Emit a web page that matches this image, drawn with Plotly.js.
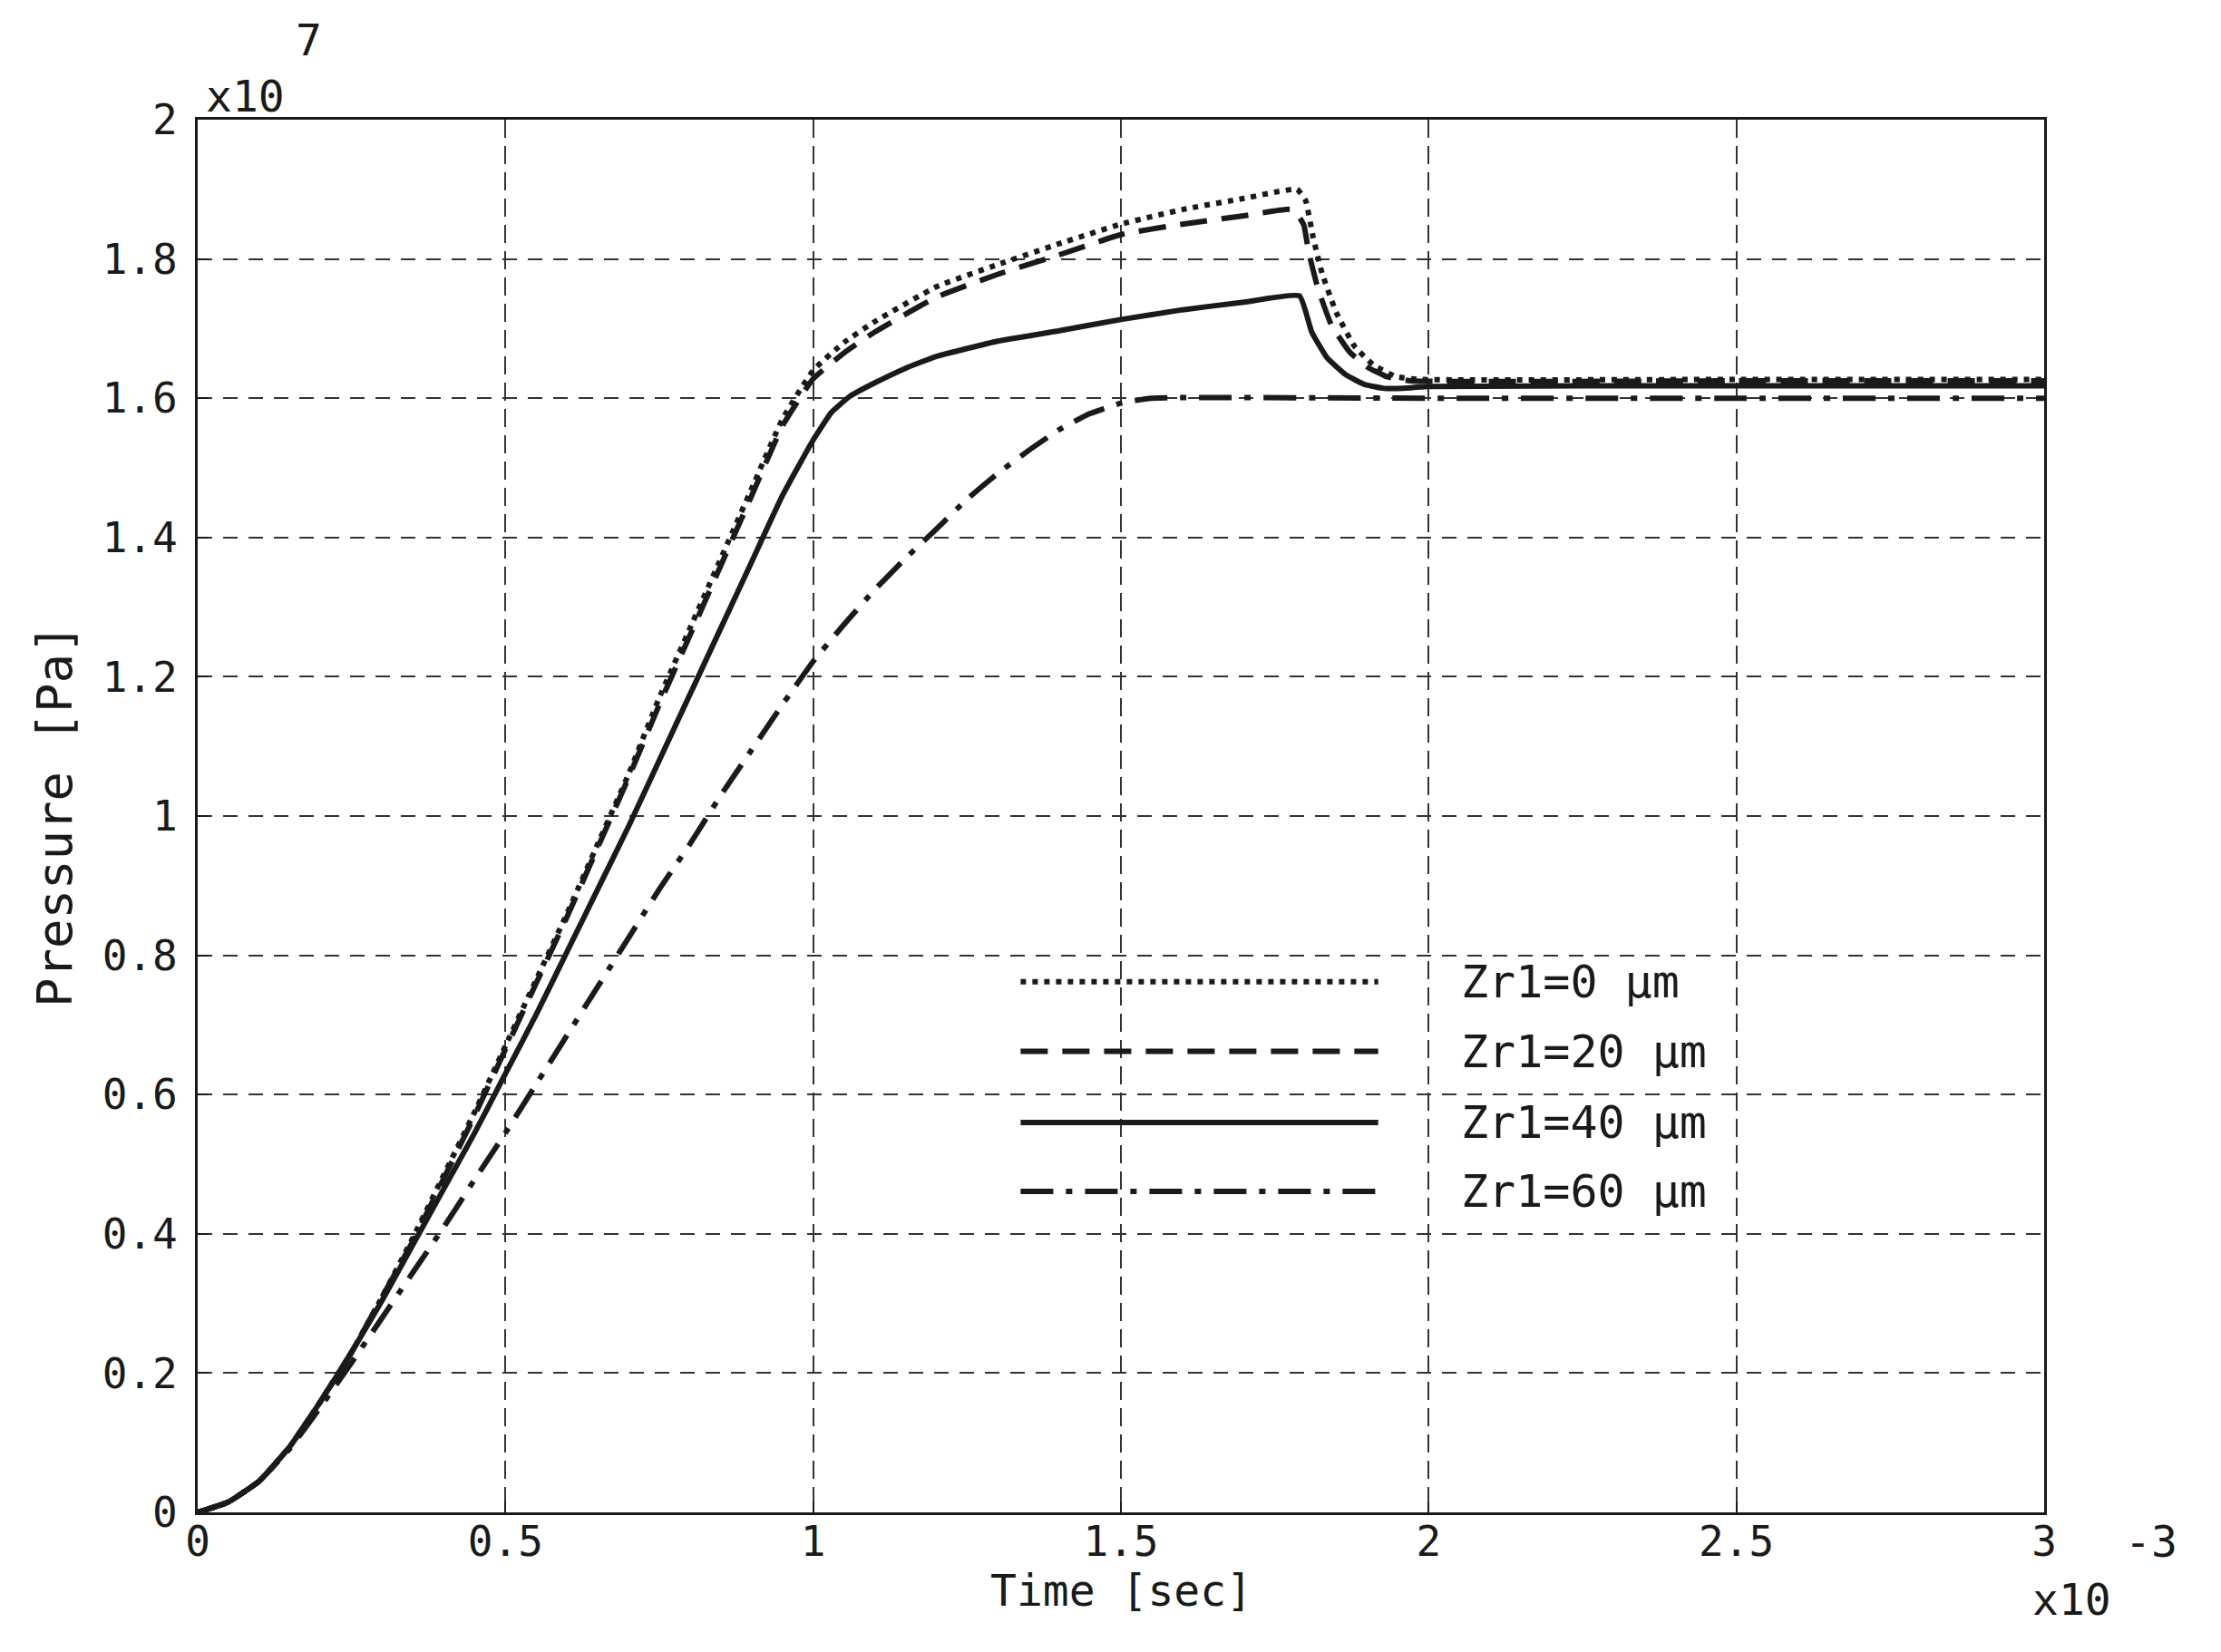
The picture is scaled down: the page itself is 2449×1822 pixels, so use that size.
<!DOCTYPE html>
<html>
<head>
<meta charset="utf-8">
<script src="https://cdn.plot.ly/plotly-3.0.1.min.js"></script>
<style>
  body { margin: 0; background: #fff; }
  #plot { width: 2449px; height: 1822px; }
</style>
</head>
<body>
<div id="plot"></div>
<script>
// time in units of 1e-3 s, pressure in units of 1e7 Pa
const t0 = [0, 0.05, 0.1, 0.15, 0.2, 0.25, 0.3, 0.35, 0.4, 0.45, 0.5, 0.55, 0.6, 0.65, 0.7, 0.75, 0.8, 0.85, 0.9, 0.95, 1.0, 1.05, 1.1, 1.2, 1.3, 1.4, 1.5, 1.6, 1.7, 1.786, 1.8, 1.812, 1.827, 1.85, 1.88, 1.91, 1.947, 1.985, 2.5, 3.0];
const p0 = [0, 0.015, 0.045, 0.095, 0.16, 0.23, 0.31, 0.395, 0.485, 0.575, 0.67, 0.765, 0.86, 0.96, 1.06, 1.17, 1.27, 1.37, 1.47, 1.57, 1.64, 1.68, 1.71, 1.76, 1.792, 1.822, 1.85, 1.871, 1.887, 1.9, 1.884, 1.832, 1.779, 1.723, 1.674, 1.648, 1.631, 1.627, 1.627, 1.627];

const t20 = [0, 0.05, 0.1, 0.15, 0.2, 0.25, 0.3, 0.35, 0.4, 0.45, 0.5, 0.55, 0.6, 0.65, 0.7, 0.75, 0.8, 0.85, 0.9, 0.95, 1.0, 1.05, 1.1, 1.2, 1.3, 1.4, 1.5, 1.6, 1.7, 1.78, 1.797, 1.805, 1.82, 1.842, 1.872, 1.902, 1.932, 1.97, 2.5, 3.0];
const p20 = [0, 0.015, 0.045, 0.095, 0.16, 0.23, 0.31, 0.39, 0.48, 0.57, 0.665, 0.76, 0.855, 0.955, 1.055, 1.16, 1.26, 1.36, 1.46, 1.56, 1.628, 1.665, 1.695, 1.745, 1.778, 1.806, 1.835, 1.85, 1.862, 1.871, 1.849, 1.81, 1.758, 1.705, 1.666, 1.644, 1.631, 1.625, 1.625, 1.625];

const t40 = [0, 0.05, 0.1, 0.15, 0.2, 0.25, 0.3, 0.35, 0.4, 0.45, 0.5, 0.55, 0.6, 0.65, 0.7, 0.75, 0.8, 0.85, 0.9, 0.95, 1.0, 1.03, 1.06, 1.1, 1.15, 1.2, 1.3, 1.4, 1.5, 1.6, 1.7, 1.79, 1.81, 1.835, 1.865, 1.895, 1.93, 1.97, 2.0, 2.5, 3.0];
const p40 = [0, 0.015, 0.045, 0.095, 0.16, 0.23, 0.305, 0.385, 0.465, 0.545, 0.63, 0.715, 0.805, 0.895, 0.985, 1.08, 1.175, 1.27, 1.365, 1.46, 1.54, 1.58, 1.603, 1.622, 1.643, 1.66, 1.682, 1.697, 1.713, 1.727, 1.738, 1.747, 1.695, 1.658, 1.634, 1.62, 1.614, 1.615, 1.617, 1.618, 1.618];

const t60 = [0, 0.05, 0.1, 0.15, 0.2, 0.25, 0.3, 0.35, 0.4, 0.45, 0.5, 0.55, 0.6, 0.65, 0.7, 0.75, 0.8, 0.85, 0.9, 0.95, 1.0, 1.05, 1.1, 1.15, 1.2, 1.25, 1.3, 1.35, 1.4, 1.45, 1.5, 1.55, 2.0, 2.5, 3.0];
const p60 = [0, 0.015, 0.045, 0.092, 0.152, 0.215, 0.28, 0.345, 0.41, 0.478, 0.545, 0.615, 0.685, 0.755, 0.825, 0.895, 0.96, 1.03, 1.095, 1.16, 1.222, 1.275, 1.325, 1.37, 1.412, 1.455, 1.492, 1.525, 1.555, 1.578, 1.593, 1.6, 1.6, 1.6, 1.6];

const seriesNames = ['Zr1=0 μm', 'Zr1=20 μm', 'Zr1=40 μm', 'Zr1=60 μm'];
const seriesDash = ['6px,7px', '30px,16px', 'solid', '36px,14px,7px,14px'];
const xTickVals = [0, 0.5, 1, 1.5, 2, 2.5, 3];
const yTickVals = [0, 0.2, 0.4, 0.6, 0.8, 1, 1.2, 1.4, 1.6, 1.8, 2];

const FONT = 'DejaVu Sans Mono, monospace';
const INK = '#1a1a1a';

const xs = [t0, t20, t40, t60];
const ys = [p0, p20, p40, p60];

const data = xs.map((x, i) => ({
  x: x,
  y: ys[i],
  mode: 'lines',
  name: seriesNames[i],
  line: { color: INK, width: 6, dash: seriesDash[i], shape: 'spline', smoothing: 0.4 },
  showlegend: false,
}));

// hand-built legend: long sample lines with text to the right
const legX0 = 1.337, legX1 = 1.918, legTextX = 2.05;
const legY = [0.762, 0.662, 0.56, 0.461];

const shapes = seriesNames.map((n, i) => ({
  type: 'line', xref: 'x', yref: 'y',
  x0: legX0, x1: legX1, y0: legY[i], y1: legY[i],
  line: { color: INK, width: 6, dash: seriesDash[i] },
}));

const annotations = seriesNames.map((n, i) => ({
  xref: 'x', yref: 'y', x: legTextX, y: legY[i],
  text: n, showarrow: false, xanchor: 'left', yanchor: 'middle',
  font: { family: FONT, size: 50, color: INK },
}));

annotations.push(
  { xref: 'paper', yref: 'paper', x: 0.5, y: 0, yshift: -86, text: 'Time [sec]',
    showarrow: false, xanchor: 'center', yanchor: 'middle',
    font: { family: FONT, size: 48, color: INK } },
  { xref: 'paper', yref: 'paper', x: 0, y: 0.5, xshift: -158, text: 'Pressure [Pa]',
    textangle: -90, showarrow: false, xanchor: 'center', yanchor: 'middle',
    font: { family: FONT, size: 54, color: INK } },
  { xref: 'paper', yref: 'paper', x: 0, y: 1, xshift: 52, yshift: 26, text: 'x10',
    showarrow: false, xanchor: 'center', yanchor: 'middle',
    font: { family: FONT, size: 48, color: INK } },
  { xref: 'paper', yref: 'paper', x: 0, y: 1, xshift: 122, yshift: 88, text: '7',
    showarrow: false, xanchor: 'center', yanchor: 'middle',
    font: { family: FONT, size: 48, color: INK } },
  { xref: 'paper', yref: 'paper', x: 1, y: 0, xshift: 118, yshift: -32, text: '-3',
    showarrow: false, xanchor: 'center', yanchor: 'middle',
    font: { family: FONT, size: 48, color: INK } },
  { xref: 'paper', yref: 'paper', x: 1, y: 0, xshift: 30, yshift: -96, text: 'x10',
    showarrow: false, xanchor: 'center', yanchor: 'middle',
    font: { family: FONT, size: 48, color: INK } }
);

const layout = {
  width: 2449,
  height: 1822,
  margin: { l: 218, r: 195, t: 132, b: 154 },
  paper_bgcolor: '#fff',
  plot_bgcolor: '#fff',
  showlegend: false,
  xaxis: {
    range: [0, 3],
    tickvals: xTickVals,
    ticktext: xTickVals.map(String),
    showline: true, mirror: true, linecolor: INK, linewidth: 3,
    ticks: 'inside', ticklen: 12, tickwidth: 2, tickcolor: INK,
    showgrid: true, gridcolor: '#333', gridwidth: 2, griddash: '20px,9px',
    zeroline: false,
    tickfont: { family: FONT, size: 46, color: INK },
    ticklabelstandoff: -10,
  },
  yaxis: {
    range: [0, 2],
    tickvals: yTickVals,
    ticktext: yTickVals.map(String),
    showline: true, mirror: true, linecolor: INK, linewidth: 3,
    ticks: 'inside', ticklen: 12, tickwidth: 2, tickcolor: INK,
    showgrid: true, gridcolor: '#333', gridwidth: 2, griddash: '16px,12px',
    zeroline: false,
    tickfont: { family: FONT, size: 46, color: INK },
    ticklabelstandoff: 10,
  },
  shapes: shapes,
  annotations: annotations,
};

Plotly.newPlot('plot', data, layout, { staticPlot: true });
</script>
</body>
</html>
